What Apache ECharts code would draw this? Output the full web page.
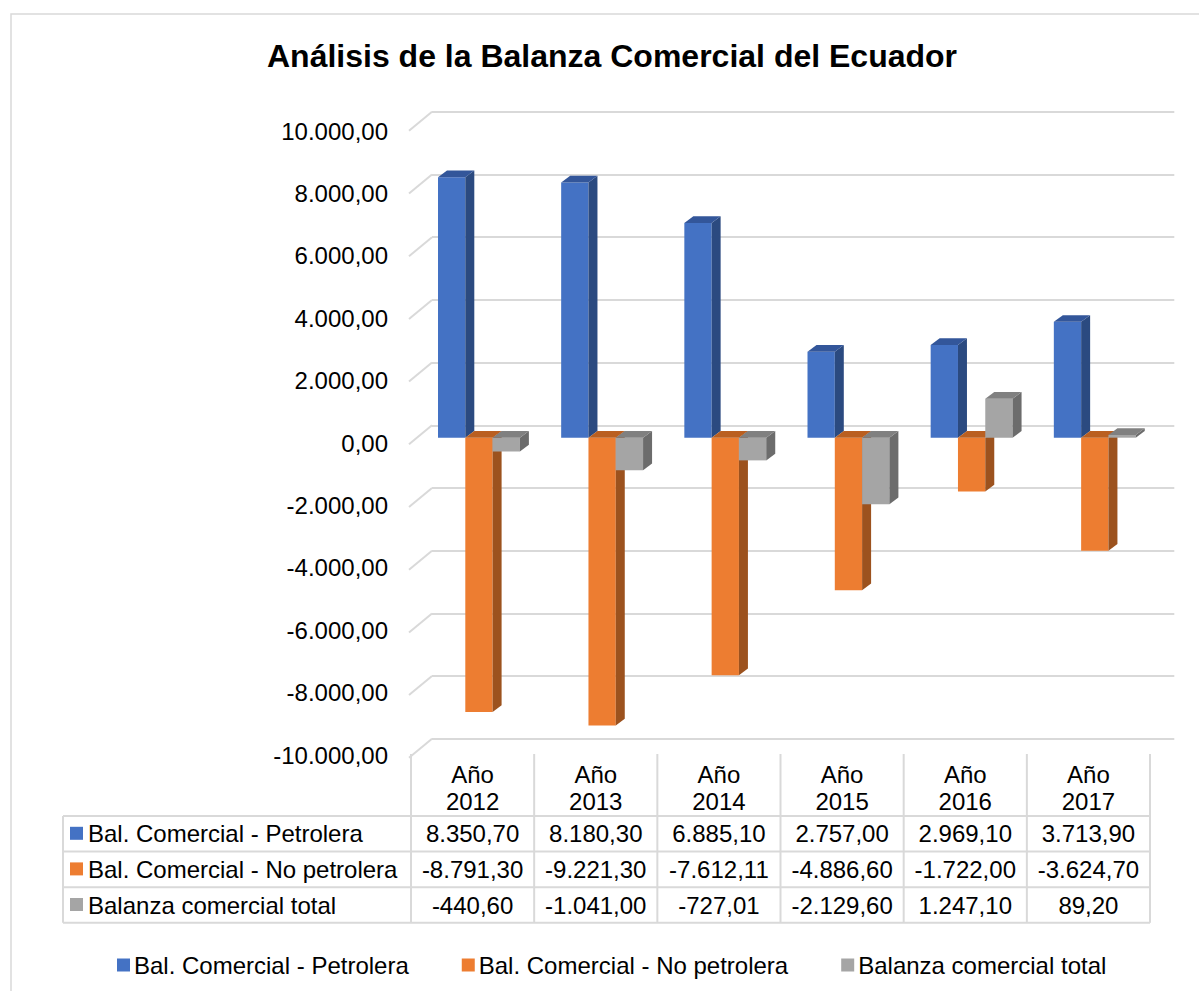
<!DOCTYPE html>
<html>
<head>
<meta charset="utf-8">
<title>Balanza Comercial del Ecuador</title>
<script src="https://cdn.jsdelivr.net/npm/echarts@6/dist/echarts.min.js"></script>
<style>
  html, body { margin: 0; padding: 0; background: #fff; }
  #chart { width: 1199px; height: 991px; }
</style>
</head>
<body>
<div id="chart"></div>
<script>
// datos
var categorias = ['Año 2012', 'Año 2013', 'Año 2014', 'Año 2015', 'Año 2016', 'Año 2017'];
var nombres = ['Bal. Comercial - Petrolera', 'Bal. Comercial - No petrolera', 'Balanza comercial total'];
var petrolera = [8350.70, 8180.30, 6885.10, 2757.00, 2969.10, 3713.90];
var noPetrolera = [-8791.30, -9221.30, -7612.11, -4886.60, -1722.00, -3624.70];
var total = [-440.60, -1041.00, -727.01, -2129.60, 1247.10, 89.20];
var ticks = [-10000, -8000, -6000, -4000, -2000, 0, 2000, 4000, 6000, 8000, 10000];

var series = [petrolera, noPetrolera, total];
var colores = [
  { front: '#4472C4', side: '#2B4A80', top: '#33569A' },
  { front: '#ED7D31', side: '#9C521E', top: '#BA5F20' },
  { front: '#A5A5A5', side: '#6C6C6C', top: '#808080' }
];
var FONT = "'Liberation Sans', Arial, sans-serif";

function fmt(v) {
  var neg = v < 0;
  var p = Math.abs(v).toFixed(2).split('.');
  return (neg ? '-' : '') + p[0].replace(/\B(?=(\d{3})+(?!\d))/g, '.') + ',' + p[1];
}

// medidas de las barras 3D
var BAR_OFF = 27, BAR_W = 27.3, DX = 9, DY = 6.7;

function barItem(s) {
  return function (params, api) {
    var i = api.value(0), v = api.value(1);
    var cs = params.coordSys;
    var band = api.size([1, 0])[0];
    var x = cs.x + i * band + BAR_OFF + s * BAR_W;
    var y0 = api.coord([i, 0])[1], y1 = api.coord([i, v])[1];
    var top = Math.min(y0, y1), bot = Math.max(y0, y1);
    var c = colores[s];
    return {
      type: 'group',
      children: [
        { type: 'rect', shape: { x: x, y: top, width: BAR_W, height: bot - top }, style: { fill: c.front } },
        { type: 'polygon', shape: { points: [[x + BAR_W, top], [x + BAR_W + DX, top - DY], [x + BAR_W + DX, bot - DY], [x + BAR_W, bot]] }, style: { fill: c.side } },
        { type: 'polygon', shape: { points: [[x, top], [x + BAR_W, top], [x + BAR_W + DX, top - DY], [x + DX, top - DY]] }, style: { fill: c.top } }
      ]
    };
  };
}

// tabla de datos
var TBL_LEFT = 63, LABEL_RIGHT = 411, COL_W = 123.17, HEAD_TOP = 754, ROW_TOP = 816, ROW_H = 35.6;
var LINE = { stroke: '#D9D9D9', lineWidth: 2 };
var tabla = [];
var tblRight = LABEL_RIGHT + COL_W * categorias.length;
var tblBottom = ROW_TOP + ROW_H * series.length;
for (var k = 0; k <= series.length; k++) {
  tabla.push({ type: 'line', shape: { x1: TBL_LEFT, y1: ROW_TOP + k * ROW_H, x2: tblRight, y2: ROW_TOP + k * ROW_H }, style: LINE });
}
tabla.push({ type: 'line', shape: { x1: TBL_LEFT, y1: ROW_TOP, x2: TBL_LEFT, y2: tblBottom }, style: LINE });
for (var j = 0; j <= categorias.length; j++) {
  var xx = LABEL_RIGHT + j * COL_W;
  tabla.push({ type: 'line', shape: { x1: xx, y1: HEAD_TOP, x2: xx, y2: tblBottom }, style: LINE });
}
categorias.forEach(function (cat, j) {
  var cx = LABEL_RIGHT + (j + 0.5) * COL_W;
  tabla.push({
    type: 'text', x: cx, y: (HEAD_TOP + ROW_TOP) / 2 + 3,
    style: { text: cat.replace(' ', '\n'), font: '24px ' + FONT, fill: '#000', align: 'center', verticalAlign: 'middle', lineHeight: 27 }
  });
  series.forEach(function (arr, s) {
    tabla.push({
      type: 'text', x: cx, y: ROW_TOP + (s + 0.5) * ROW_H,
      style: { text: fmt(arr[j]), font: '24px ' + FONT, fill: '#000', align: 'center', verticalAlign: 'middle' }
    });
  });
});
nombres.forEach(function (n, s) {
  var cy = ROW_TOP + (s + 0.5) * ROW_H;
  tabla.push({ type: 'rect', shape: { x: 70, y: cy - 7, width: 13, height: 13 }, style: { fill: colores[s].front } });
  tabla.push({ type: 'text', x: 88, y: cy, style: { text: n, font: '24px ' + FONT, fill: '#000', align: 'left', verticalAlign: 'middle' } });
});
// borde exterior del área del gráfico
tabla.push({ type: 'polyline', shape: { points: [[11, 991], [11, 14], [1199, 14]] }, style: { stroke: '#D9D9D9', lineWidth: 1.5, fill: null } });

var chart = echarts.init(document.getElementById('chart'), null, { renderer: 'svg' });

var seriesList = series.map(function (arr, s) {
  return {
    name: nombres[s],
    type: 'custom',
    xAxisIndex: 0, yAxisIndex: 0,
    itemStyle: { color: colores[s].front },
    renderItem: barItem(s),
    data: arr.map(function (v, i) { return [i, v]; }),
    z: 3 + s
  };
});
// diagonales del piso lateral de la pared de fondo
seriesList.push({
  type: 'custom',
  xAxisIndex: 2, yAxisIndex: 2,
  silent: true,
  renderItem: function (params, api) {
    var cs = params.coordSys;
    var y = api.coord([0, api.value(0)])[1];
    return { type: 'line', shape: { x1: cs.x - 23, y1: y + 19, x2: cs.x, y2: y }, style: { stroke: '#D9D9D9', lineWidth: 2 } };
  },
  data: ticks.map(function (t) { return [t]; }),
  encode: { y: 0 },
  z: 1
});

chart.setOption({
  backgroundColor: '#fff',
  animation: false,
  title: {
    text: 'Análisis de la Balanza Comercial del Ecuador',
    left: 262, top: 35,
    textStyle: { fontFamily: FONT, fontSize: 32, fontWeight: 'bold', color: '#000' }
  },
  legend: {
    data: nombres,
    left: 112, top: 948,
    icon: 'rect', itemWidth: 13, itemHeight: 13, itemGap: 53,
    textStyle: { fontFamily: FONT, fontSize: 24, color: '#000', padding: [0, 0, 0, -1] }
  },
  grid: [
    { left: 411, width: 739, top: 125.7, height: 624 },      // barras
    { left: 409, width: 739, top: 131, height: 624 },        // etiquetas del eje
    { left: 432, right: 24.7, top: 111.8, height: 627 }      // pared de fondo
  ],
  xAxis: [
    { type: 'category', gridIndex: 0, data: categorias, show: false },
    { type: 'category', gridIndex: 1, data: categorias, show: false },
    { type: 'value', gridIndex: 2, min: 0, max: 1, show: false }
  ],
  yAxis: [
    { type: 'value', gridIndex: 0, min: -10000, max: 10000, interval: 2000, show: false },
    {
      type: 'value', gridIndex: 1, min: -10000, max: 10000, interval: 2000,
      axisLine: { show: false }, axisTick: { show: false }, splitLine: { show: false },
      axisLabel: { formatter: fmt, fontFamily: FONT, fontSize: 24, color: '#000', margin: 21 }
    },
    {
      type: 'value', gridIndex: 2, min: -10000, max: 10000, interval: 2000,
      axisLine: { show: false }, axisTick: { show: false }, axisLabel: { show: false },
      splitLine: { lineStyle: { color: '#D9D9D9', width: 2 } }
    }
  ],
  graphic: tabla,
  series: seriesList
});
</script>
</body>
</html>
